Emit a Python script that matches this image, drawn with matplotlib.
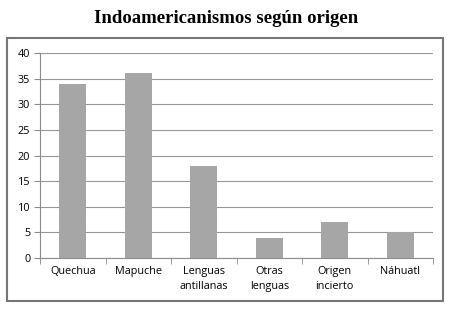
import matplotlib
matplotlib.use("Agg")
import matplotlib.pyplot as plt
from matplotlib.patches import Rectangle
import numpy as np

# datos
categorias = ["Quechua", "Mapuche", "Lenguas\nantillanas", "Otras\nlenguas", "Origen\nincierto", "Náhuatl"]
valores = [34, 36, 18, 4, 7, 5]
y_ticks = [0, 5, 10, 15, 20, 25, 30, 35, 40]

fig = plt.figure(figsize=(4.53, 3.09), dpi=100)
fig.patch.set_facecolor("white")

# marco exterior
fig.patches.append(Rectangle((0.0155, 0.026), 0.9625, 0.851, transform=fig.transFigure,
                             fill=False, edgecolor="#767676", linewidth=1.5))

fig.text(0.5, 0.94, "Indoamericanismos según origen", ha="center", va="center",
         fontsize=13.5, fontweight="bold", family="Liberation Serif")

ax = fig.add_axes([0.0883, 0.165, 0.8677, 0.6635])
x = np.arange(len(categorias))
ax.bar(x, valores, width=0.41, color="#a6a6a6", zorder=3)

ax.set_ylim(0, 40)
ax.set_xlim(-0.5, len(categorias) - 0.5)
ax.set_yticks(y_ticks)
ax.yaxis.grid(True, color="#969696", linewidth=0.8, zorder=0)

for s in ["top", "right"]:
    ax.spines[s].set_visible(False)
ax.spines["left"].set_color("#8c8c8c")
ax.spines["bottom"].set_color("#8c8c8c")

ax.set_xticks(x)
ax.set_xticklabels(categorias, family="Open Sans", fontsize=7.8, linespacing=1.4)
ax.tick_params(axis="x", length=0, pad=6)
ax.set_xticks(np.arange(-0.5, len(categorias)), minor=True)
ax.tick_params(axis="x", which="minor", length=4, color="#8c8c8c")
ax.tick_params(axis="y", length=4, color="#8c8c8c", pad=3)
for lab in ax.get_yticklabels():
    lab.set_family("Open Sans")
    lab.set_fontsize(7.8)

fig.savefig("out.png", dpi=100)
